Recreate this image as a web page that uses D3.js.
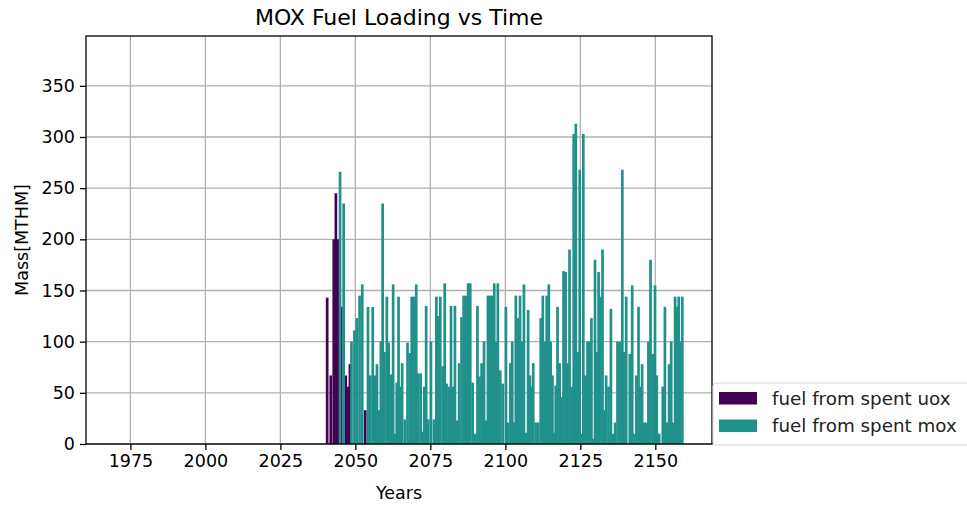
<!DOCTYPE html>
<html>
<head>
<meta charset="utf-8">
<script src="https://cdn.jsdelivr.net/npm/d3@7"></script>
<style>
  html, body { margin: 0; padding: 0; background: #fff; }
  svg { display: block; font-family: "DejaVu Sans", sans-serif; }
</style>
</head>
<body>
<svg id="chart" width="967" height="508"></svg>
<script>
// fuel from spent uox (year, MTHM)
var uoxYears = [2040.6, 2041.8, 2042.8, 2043.5, 2044.2, 2045.3, 2046.8, 2047.5, 2048.2, 2053.3];
var uoxMass  = [143, 67, 200, 245, 200, 134, 67, 56, 78, 33];

// fuel from spent mox (year, MTHM)
var moxYears = [
  2044.9, 2046.1, 2048.7, 2049.7, 2050.5, 2051.4, 2052.3, 2054.2, 2055.0, 2055.8,
  2056.5, 2057.2, 2057.9, 2058.5, 2059.1, 2059.7, 2060.5, 2061.1, 2061.8, 2062.6,
  2063.2, 2063.8, 2064.4, 2065.0, 2065.6, 2066.5, 2067.4, 2068.2, 2068.8, 2069.5,
  2070.3, 2071.0, 2071.8, 2072.4, 2073.0, 2073.6, 2074.3, 2075.2, 2076.2, 2077.0,
  2077.6, 2078.3, 2079.1, 2079.8, 2080.4, 2081.1, 2081.9, 2082.5, 2083.2, 2083.9,
  2084.6, 2085.4, 2086.1, 2086.9, 2087.6, 2088.3, 2089.1, 2089.9, 2090.7, 2091.4,
  2092.1, 2092.9, 2093.5, 2094.2, 2094.9, 2095.6, 2096.3, 2097.0, 2097.5, 2098.3,
  2099.1, 2100.2, 2100.9, 2101.7, 2102.3, 2102.8, 2103.5, 2104.2, 2104.9, 2105.5,
  2106.2, 2106.8, 2107.6, 2108.2, 2108.7, 2109.3, 2110.1, 2111.0, 2111.8, 2112.5,
  2113.1, 2113.8, 2114.5, 2115.1, 2115.7, 2116.3, 2116.8, 2117.4, 2118.1, 2118.7,
  2119.4, 2120.1, 2120.7, 2121.4, 2122.1, 2122.8, 2123.5, 2124.2, 2124.8, 2125.4,
  2126.0, 2126.7, 2127.4, 2128.0, 2128.7, 2129.3, 2129.9, 2130.5, 2131.1, 2131.7,
  2132.4, 2132.9, 2133.6, 2134.4, 2135.2, 2135.9, 2136.6, 2137.4, 2138.1, 2139.0,
  2139.6, 2140.3, 2141.5, 2142.3, 2142.9, 2143.7, 2144.4, 2145.0, 2145.6, 2146.3,
  2147.0, 2147.7, 2148.4, 2149.1, 2149.9, 2150.5, 2151.3, 2152.5, 2153.2, 2153.9,
  2154.6, 2155.3, 2156.0, 2156.6, 2157.3, 2157.8, 2158.4, 2159.0
];
var moxMass = [
  266, 235, 100, 111, 123, 145, 156, 134, 67, 134,
  67, 78, 33, 100, 235, 90, 144, 99, 68, 156,
  10, 60, 144, 56, 79, 24, 99, 89, 144, 144,
  156, 69, 69, 12, 56, 135, 24, 100, 24, 144,
  125, 144, 76, 157, 59, 56, 135, 56, 135, 23,
  79, 124, 145, 145, 157, 157, 60, 10, 135, 66,
  79, 100, 23, 145, 145, 145, 157, 100, 157, 72,
  59, 134, 21, 79, 100, 21, 145, 123, 145, 100,
  156, 11, 131, 67, 56, 79, 21, 21, 123, 145,
  100, 145, 156, 100, 67, 11, 57, 134, 79, 46,
  169, 168, 79, 190, 56, 303, 313, 90, 268, 10,
  303, 67, 100, 100, 123, 5, 180, 90, 168, 144,
  190, 33, 67, 56, 132, 10, 21, 100, 100, 268,
  90, 144, 88, 155, 10, 67, 134, 56, 78, 21,
  21, 100, 180, 88, 155, 67, 10, 56, 134, 21,
  78, 100, 21, 144, 134, 144, 100, 144
];

var xTicks = [1975, 2000, 2025, 2050, 2075, 2100, 2125, 2150];
var yTicks = [0, 50, 100, 150, 200, 250, 300, 350];

var seriesNames = ['fuel from spent uox', 'fuel from spent mox'];
var seriesColors = ['#440154', '#21918c'];

// axes box (matplotlib style)
var margin = {left: 86, right: 712, top: 36, bottom: 444};
var barWidth = 0.9; // in years
var fontSize = 17.5;

var svg = d3.select('#chart');

var x = d3.scaleLinear()
  .domain([1960.2, 2168.9])
  .range([margin.left, margin.right]);

var y = d3.scaleLinear()
  .domain([0, 398.7])
  .range([margin.bottom, margin.top]);

// grid
svg.append('g')
  .selectAll('line').data(xTicks).enter().append('line')
  .attr('x1', d => x(d)).attr('x2', d => x(d))
  .attr('y1', margin.top).attr('y2', margin.bottom)
  .attr('stroke', '#b0b0b0').attr('stroke-width', 1.3);

svg.append('g')
  .selectAll('line').data(yTicks).enter().append('line')
  .attr('x1', margin.left).attr('x2', margin.right)
  .attr('y1', d => y(d)).attr('y2', d => y(d))
  .attr('stroke', '#b0b0b0').attr('stroke-width', 1.3);

// bars - uox first, mox drawn over it
function drawBars(years, mass, color) {
  var data = years.map((yr, i) => ({year: yr, value: mass[i]}));
  svg.append('g')
    .selectAll('rect').data(data).enter().append('rect')
    .attr('x', d => x(d.year - barWidth / 2))
    .attr('width', d => x(d.year + barWidth / 2) - x(d.year - barWidth / 2))
    .attr('y', d => y(d.value))
    .attr('height', d => y(0) - y(d.value))
    .attr('fill', color);
}
drawBars(uoxYears, uoxMass, seriesColors[0]);
drawBars(moxYears, moxMass, seriesColors[1]);

// axes
var xAxis = svg.append('g')
  .attr('transform', `translate(0, ${margin.bottom})`)
  .call(d3.axisBottom(x).tickValues(xTicks).tickFormat(d3.format('d')).tickSize(6).tickPadding(5));
var yAxis = svg.append('g')
  .attr('transform', `translate(${margin.left}, 0)`)
  .call(d3.axisLeft(y).tickValues(yTicks).tickSize(6).tickPadding(5));

[xAxis, yAxis].forEach(g => {
  g.select('.domain').remove();
  g.selectAll('line').attr('stroke', '#000').attr('stroke-width', 1.3);
  g.selectAll('text').attr('fill', '#000').style('font-size', fontSize + 'px')
    .style('font-family', '"DejaVu Sans", sans-serif');
});

// frame
svg.append('rect')
  .attr('x', margin.left).attr('y', margin.top)
  .attr('width', margin.right - margin.left)
  .attr('height', margin.bottom - margin.top)
  .attr('fill', 'none').attr('stroke', '#000').attr('stroke-width', 1.3);

// title & labels
svg.append('text')
  .attr('x', (margin.left + margin.right) / 2).attr('y', 25)
  .attr('text-anchor', 'middle')
  .style('font-size', '22px')
  .text('MOX Fuel Loading vs Time');

svg.append('text')
  .attr('x', (margin.left + margin.right) / 2).attr('y', 499)
  .attr('text-anchor', 'middle')
  .style('font-size', fontSize + 'px')
  .text('Years');

svg.append('text')
  .attr('transform', `translate(28, ${(margin.top + margin.bottom) / 2}) rotate(-90)`)
  .attr('text-anchor', 'middle')
  .style('font-size', fontSize + 'px')
  .text('Mass[MTHM]');

// legend (sits on the right edge, partly outside the axes)
var legend = svg.append('g').attr('transform', 'translate(713, 383)');
legend.append('rect')
  .attr('x', 0).attr('y', 0).attr('width', 262).attr('height', 62)
  .attr('rx', 3)
  .attr('fill', '#fff').attr('fill-opacity', 0.9)
  .attr('stroke', '#d6d6d6').attr('stroke-width', 1);

seriesNames.forEach((name, i) => {
  var row = legend.append('g').attr('transform', `translate(0, ${9 + i * 27.5})`);
  row.append('rect')
    .attr('x', 6).attr('y', 0).attr('width', 38).attr('height', 12.5)
    .attr('fill', seriesColors[i]);
  row.append('text')
    .attr('x', 59).attr('y', 12.5)
    .style('font-size', '18.3px')
    .attr('fill', '#222')
    .text(name);
});
</script>
</body>
</html>
